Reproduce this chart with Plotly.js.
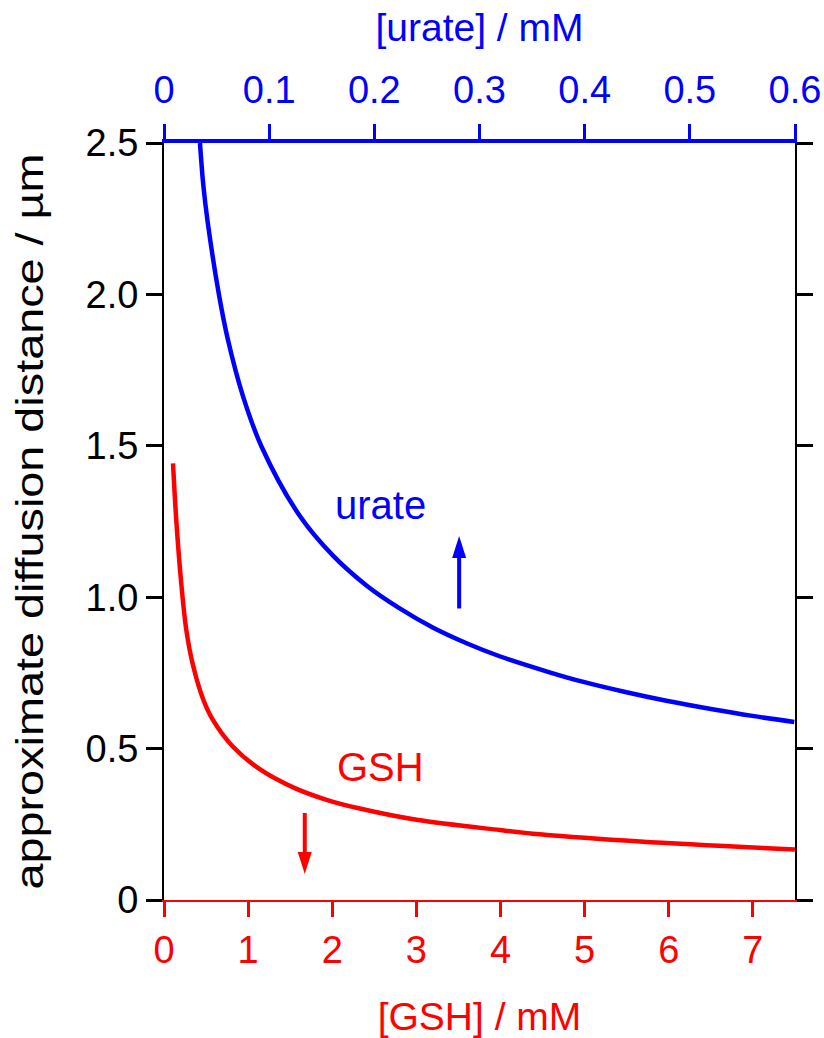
<!DOCTYPE html>
<html>
<head>
<meta charset="utf-8">
<script src="https://cdn.plot.ly/plotly-3.0.1.min.js"></script>
<style>
  html, body { margin: 0; padding: 0; background: #ffffff; }
  #chart { width: 824px; height: 1038px; }
</style>
</head>
<body>
<div id="chart"></div>
<script>
// Urate concentration (mM, top axis) and approximate diffusion distance (µm)
const urateConc = [0.0342, 0.0374, 0.0415, 0.0522, 0.0608, 0.0750, 0.0928, 0.1292, 0.1605, 0.1928,
                   0.2241, 0.2555, 0.2877, 0.3191, 0.3666, 0.3979, 0.4397, 0.4777, 0.5214, 0.5594, 0.5993];
const urateDist = [2.500, 2.360, 2.240, 2.000, 1.850, 1.665, 1.497, 1.268, 1.138, 1.038,
                   0.963, 0.900, 0.848, 0.805, 0.752, 0.721, 0.686, 0.658, 0.630, 0.608, 0.588];

// GSH concentration (mM, bottom axis) and approximate diffusion distance (µm)
const gshConc = [0.107, 0.147, 0.207, 0.266, 0.345, 0.464, 0.583, 0.820, 1.138,
                 1.534, 1.931, 2.327, 3.001, 3.992, 4.467, 5.657, 7.499];
const gshDist  = [1.442, 1.250, 1.040, 0.890, 0.775, 0.664, 0.594, 0.506, 0.432,
                  0.372, 0.331, 0.302, 0.265, 0.231, 0.217, 0.193, 0.167];

// Y-axis ticks
const yTickVals = [0, 0.5, 1.0, 1.5, 2.0, 2.5];
const yTickText = ['0', '0.5', '1.0', '1.5', '2.0', '2.5'];

// Curve labels and direction arrows (positions on the GSH / distance axes)
const labelUrate = {text: 'urate', x: 2.577, y: 1.304};
const labelGSH = {text: 'GSH', x: 2.57, y: 0.44};
const arrowUrate = {x: 3.508, tail: 0.958, tip: 1.202};
const arrowGSH = {x: 1.673, tail: 0.292, tip: 0.086};

const BLUE = '#0000ff';
const RED = '#ff0000';
const FONT = 'Liberation Sans, Arial, sans-serif';
const TICK_FS = 38;
const TITLE_FS = 39;
const LABEL_FS = 40;
const HEAD_LEN = 22;   // arrowhead length, px
const HEAD_HALF = 7;   // arrowhead half width, px

const traces = [
  {
    x: gshConc, y: gshDist, xaxis: 'x', yaxis: 'y',
    mode: 'lines', line: {color: RED, width: 4.5, shape: 'spline', smoothing: 1.0},
    hoverinfo: 'skip', showlegend: false
  },
  {
    x: urateConc, y: urateDist, xaxis: 'x2', yaxis: 'y',
    mode: 'lines', line: {color: BLUE, width: 4.5, shape: 'spline', smoothing: 1.0},
    hoverinfo: 'skip', showlegend: false
  }
];

// Arrow = shaft (annotation line stopping short of the tip) + pixel-sized triangular head
function arrowParts(a, color, pointsUp) {
  const dir = pointsUp ? -1 : 1;
  const shaft = {
    text: '', x: a.x, y: a.tip, xref: 'x', yref: 'y',
    ax: a.x, ay: a.tail, axref: 'x', ayref: 'y',
    showarrow: true, arrowhead: 0, arrowwidth: 4, arrowcolor: color, standoff: HEAD_LEN - 2
  };
  const head = {
    type: 'path', xref: 'x', yref: 'y',
    xsizemode: 'pixel', ysizemode: 'pixel', xanchor: a.x, yanchor: a.tip,
    path: `M0,0 L${-HEAD_HALF},${dir * HEAD_LEN} L${HEAD_HALF},${dir * HEAD_LEN} Z`,
    fillcolor: color, line: {width: 0}, layer: 'above'
  };
  return {shaft, head};
}
const upArrow = arrowParts(arrowUrate, BLUE, true);
const downArrow = arrowParts(arrowGSH, RED, false);

const layout = {
  width: 824, height: 1038,
  paper_bgcolor: '#ffffff', plot_bgcolor: '#ffffff',
  margin: {l: 164, r: 29, t: 143, b: 138, pad: 0},
  font: {family: FONT, size: TICK_FS, color: '#000000'},
  showlegend: false,
  xaxis: {
    range: [0, 7.5], dtick: 1, tick0: 0,
    showgrid: false, zeroline: false,
    showline: true, linecolor: RED, linewidth: 2,
    ticks: 'outside', ticklen: 15, tickwidth: 3, tickcolor: RED,
    tickfont: {family: FONT, size: TICK_FS, color: RED},
    title: {text: '[GSH] / mM', font: {family: FONT, size: TITLE_FS, color: RED}, standoff: 36},
    automargin: false
  },
  xaxis2: {
    range: [0, 0.6], dtick: 0.1, tick0: 0,
    overlaying: 'x', side: 'top', anchor: 'y',
    showgrid: false, zeroline: false,
    showline: true, linecolor: BLUE, linewidth: 4,
    ticks: 'outside', ticklen: 15, tickwidth: 3, tickcolor: BLUE,
    ticklabelstandoff: 6,
    tickfont: {family: FONT, size: TICK_FS, color: BLUE},
    title: {text: '[urate] / mM', font: {family: FONT, size: TITLE_FS, color: BLUE}, standoff: 16},
    automargin: false
  },
  yaxis: {
    range: [0, 2.5], tickvals: yTickVals, ticktext: yTickText,
    showgrid: false, zeroline: false,
    showline: true, linecolor: '#000000', linewidth: 2, mirror: 'ticks',
    ticks: 'outside', ticklen: 16, tickwidth: 3, tickcolor: '#000000',
    tickfont: {family: FONT, size: TICK_FS, color: '#000000'},
    title: {text: 'approximate diffusion distance / µm', font: {family: FONT, size: TITLE_FS, color: '#000000'}, standoff: 30},
    automargin: false
  },
  annotations: [
    {text: labelUrate.text, x: labelUrate.x, y: labelUrate.y, xref: 'x', yref: 'y',
     showarrow: false, font: {family: FONT, size: LABEL_FS, color: BLUE}},
    {text: labelGSH.text, x: labelGSH.x, y: labelGSH.y, xref: 'x', yref: 'y',
     showarrow: false, font: {family: FONT, size: LABEL_FS, color: RED}},
    upArrow.shaft, downArrow.shaft
  ],
  shapes: [upArrow.head, downArrow.head]
};

Plotly.newPlot('chart', traces, layout, {staticPlot: true, displayModeBar: false}).then(function (gd) {
  // Stretch the vertical title along its length so it spans the full axis height
  const t = gd.querySelector('.ytitle');
  if (t) {
    const cx = parseFloat(t.getAttribute('x'));
    const cy = parseFloat(t.getAttribute('y'));
    t.setAttribute('transform',
      `rotate(-90,${cx},${cy}) translate(${cx},${cy}) scale(1.2,1) translate(${-cx},${-cy})`);
  }
});
</script>
</body>
</html>
